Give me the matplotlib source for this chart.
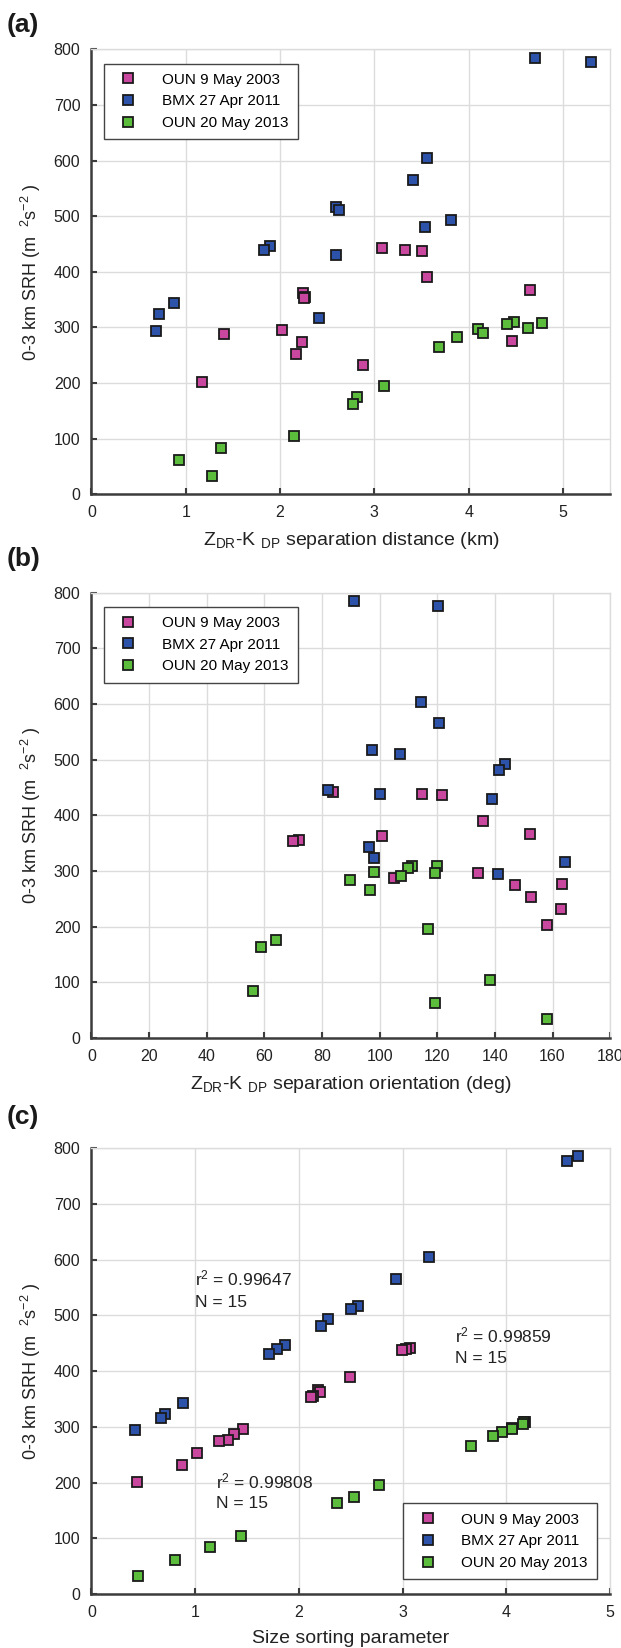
import matplotlib
matplotlib.use("Agg")
import matplotlib.pyplot as plt

plt.rcParams['font.family'] = ['Liberation Sans', 'DejaVu Sans']
plt.rcParams['mathtext.default'] = 'regular'

# Series names and colours
series_names = ['OUN 9 May 2003', 'BMX 27 Apr 2011', 'OUN 20 May 2013']
series_colors = ['#C9479E', '#2C52AA', '#5CBD3C']

# 0-3 km SRH (m2 s-2) for each case
srh_oun03 = [442, 439, 437, 390, 367, 362, 355, 353, 296, 288, 276, 274, 253, 232, 202]
srh_bmx11 = [785, 777, 604, 565, 517, 511, 493, 481, 446, 439, 430, 343, 324, 316, 294]
srh_oun13 = [309, 308, 306, 298, 297, 290, 283, 265, 195, 175, 163, 104, 84, 62, 33]

# (a) ZDR-KDP separation distance (km)
dist_oun03 = [3.08, 3.32, 3.51, 3.56, 4.65, 2.24, 2.26, 2.25, 2.02, 1.41, 4.46, 2.23, 2.17, 2.88, 1.17]
dist_bmx11 = [4.70, 5.30, 3.56, 3.41, 2.59, 2.62, 3.81, 3.54, 1.89, 1.83, 2.59, 0.88, 0.72, 2.41, 0.68]
dist_oun13 = [4.48, 4.78, 4.41, 4.63, 4.10, 4.15, 3.88, 3.68, 3.10, 2.82, 2.77, 2.15, 1.37, 0.93, 1.28]

# (b) ZDR-KDP separation orientation (deg)
orient_oun03 = [83.9, 114.8, 121.7, 135.9, 152.1, 101.0, 71.9, 70.1, 134.2, 105.0, 163.2, 146.9, 152.4, 162.8, 158.2]
orient_bmx11 = [91.0, 120.4, 114.5, 120.7, 97.2, 107.0, 143.4, 141.5, 82.2, 100.1, 138.9, 96.4, 98.2, 164.3, 141.1]
orient_oun13 = [111.2, 119.9, 109.7, 97.9, 119.3, 107.4, 89.8, 96.6, 116.8, 63.9, 58.8, 138.2, 56.1, 119.3, 158.0]

# (c) size sorting parameter
sort_oun03 = [3.07, 3.03, 2.99, 2.49, 2.18, 2.20, 2.14, 2.12, 1.46, 1.37, 1.32, 1.23, 1.02, 0.87, 0.44]
sort_bmx11 = [4.69, 4.58, 3.25, 2.94, 2.57, 2.50, 2.28, 2.21, 1.87, 1.79, 1.71, 0.88, 0.71, 0.67, 0.42]
sort_oun13 = [4.18, 4.17, 4.16, 4.05, 4.05, 3.96, 3.87, 3.66, 2.77, 2.53, 2.37, 1.44, 1.14, 0.81, 0.45]

# regression notes for (c): r2 line, N line, x, baseline of each line
fit_notes = [('r$^2$ = 0.99647', 'N = 15', 1.0, 553, 515),
             ('r$^2$ = 0.99859', 'N = 15', 3.5, 452, 415),
             ('r$^2$ = 0.99808', 'N = 15', 1.2, 190, 154)]

ylabel = '0-3 km SRH (m  $^2$s$^{-2}$ )'
spine_c = '#3c3c3c'
grid_c = '#dcdcdc'
text_c = '#222222'

fig = plt.figure(figsize=(6.21, 16.48), dpi=100)
ax_a = fig.add_axes([0.1473, 0.7001, 0.8352, 0.2700])
ax_b = fig.add_axes([0.1473, 0.3703, 0.8352, 0.2700])
ax_c = fig.add_axes([0.1473, 0.0326, 0.8352, 0.2708])


def style_axes(ax, xmax, xticks):
    ax.set_xlim(0, xmax)
    ax.set_ylim(0, 800)
    ax.set_xticks(xticks)
    ax.set_yticks(range(0, 801, 100))
    ax.grid(True, color=grid_c, linewidth=1.0)
    ax.set_axisbelow(True)
    for s in ['left', 'bottom']:
        ax.spines[s].set_color(spine_c)
        ax.spines[s].set_linewidth(1.8)
    for s in ['top', 'right']:
        ax.spines[s].set_color(grid_c)
        ax.spines[s].set_linewidth(1.0)
    ax.tick_params(direction='in', length=4, width=1.5, color=spine_c,
                   labelsize=11.5, labelcolor=text_c, pad=8)
    ax.set_ylabel(ylabel, fontsize=13, color=text_c, labelpad=8)


def draw_points(ax, xs_list):
    srh_list = [srh_oun03, srh_bmx11, srh_oun13]
    for xs, ys, name, col in zip(xs_list, srh_list, series_names, series_colors):
        ax.plot(xs, ys, linestyle='none', marker='s', markersize=6.8,
                markerfacecolor=col, markeredgecolor='#1a1a1a',
                markeredgewidth=1.3, label=name)


def add_legend(ax, loc, anchor):
    leg = ax.legend(loc=loc, bbox_to_anchor=anchor, borderaxespad=0,
                    fontsize=11, handlelength=2.0, handletextpad=1.2,
                    borderpad=0.6, labelspacing=0.5, fancybox=False,
                    framealpha=1, edgecolor='#444444')
    leg.get_frame().set_linewidth(1.0)


# (a)
style_axes(ax_a, 5.5, range(0, 6))
draw_points(ax_a, [dist_oun03, dist_bmx11, dist_oun13])
add_legend(ax_a, 'upper left', (0.024, 0.968))
ax_a.set_xlabel('Z$_{DR}$-K $_{DP}$ separation distance (km)', fontsize=14,
                color=text_c, labelpad=7)

# (b)
style_axes(ax_b, 180, range(0, 181, 20))
draw_points(ax_b, [orient_oun03, orient_bmx11, orient_oun13])
add_legend(ax_b, 'upper left', (0.024, 0.968))
ax_b.set_xlabel('Z$_{DR}$-K $_{DP}$ separation orientation (deg)', fontsize=14,
                color=text_c, labelpad=7)

# (c)
style_axes(ax_c, 5, range(0, 6))
draw_points(ax_c, [sort_oun03, sort_bmx11, sort_oun13])
add_legend(ax_c, 'lower right', (0.975, 0.034))
ax_c.set_xlabel('Size sorting parameter', fontsize=14, color=text_c, labelpad=7)
for r2_txt, n_txt, tx, y_r2, y_n in fit_notes:
    ax_c.text(tx, y_r2, r2_txt, fontsize=12.5, color=text_c, va='baseline', ha='left')
    ax_c.text(tx, y_n, n_txt, fontsize=12.5, color=text_c, va='baseline', ha='left')

# panel letters
for letter, ypix in [('(a)', 13), ('(b)', 547), ('(c)', 1105)]:
    fig.text(7 / 621, 1 - ypix / 1648, letter, fontsize=19, fontweight='bold',
             va='top', ha='left', color='#1a1a1a')

fig.savefig('out.png', dpi=100)
